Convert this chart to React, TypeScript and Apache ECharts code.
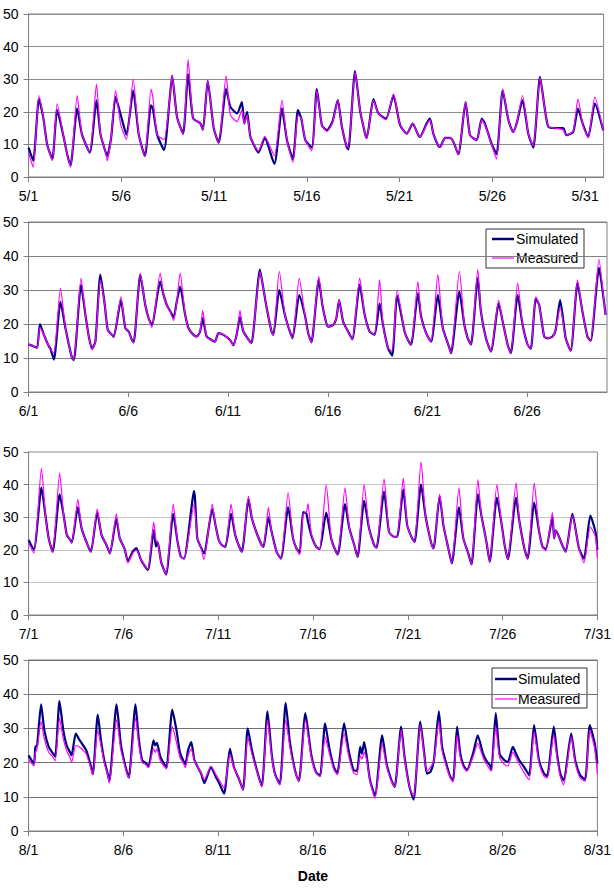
import React, { useEffect, useRef } from "react";
import * as echarts from "echarts";

const FONT = 'Arial, "Liberation Sans", Helvetica, sans-serif';

// ---------- May ----------
const mayTicks = ["5/1", "5/6", "5/11", "5/16", "5/21", "5/26", "5/31"];
const mayT = [0, 0.25, 0.56, 0.8, 1.0, 1.28, 1.54, 1.9, 2.08, 2.26,
  2.62, 2.88, 3.3, 3.66, 3.88, 4.15, 4.24, 4.45, 4.69, 4.97,
  5.28, 5.64, 5.94, 6.27, 6.6, 6.7, 6.93, 7.3, 7.6, 7.74,
  8.0, 8.33, 8.6, 8.87, 9.26, 9.4, 9.66, 9.98, 10.25, 10.65,
  10.88, 11.24, 11.5, 11.63, 11.78, 11.96, 12.3, 12.4, 12.73, 13.25,
  13.66, 13.93, 14.25, 14.52, 14.7, 14.92, 15.27, 15.54, 15.81, 16.08,
  16.38, 16.67, 16.89, 17.15, 17.24, 17.6, 17.87, 18.14, 18.23, 18.59,
  18.86, 19.27, 19.67, 20.03, 20.39, 20.71, 21.01, 21.1, 21.46, 21.64,
  21.82, 22.09, 22.18, 22.45, 22.72, 22.9, 23.17, 23.56, 23.8, 24.16,
  24.43, 24.6, 24.96, 25.23, 25.56, 25.87, 26.13, 26.31, 26.63, 26.94,
  27.21, 27.57, 27.84, 28.02, 28.4, 28.82, 29.0, 29.36, 29.62, 29.9,
  30.17, 30.53, 30.98];
const maySim = [9, 5, 24, 18, 10, 5.5, 20.5, 12, 7, 3.5,
  21, 13, 7.5, 23.5, 13, 7.7, 6.5, 12, 24.5, 19,
  13, 26.5, 13, 6.5, 22, 21, 13, 8.3, 23.5, 31,
  18.5, 13.3, 31.5, 18, 16.4, 14.5, 29.5, 15, 10.5, 27,
  21.5, 19.5, 23, 16.4, 20, 12.3, 8.2, 7.5, 12, 4,
  21, 11.3, 5.5, 20.5, 18, 11.3, 9, 27, 15.9, 14.3,
  16.9, 23.6, 15.4, 9.2, 8.5, 32.5, 20.5, 13.3, 12, 23.9,
  19.5, 17.9, 25, 15.9, 13.3, 16.4, 12.8, 12.3, 16.4, 17.9,
  13.3, 9.5, 9.2, 12, 12, 10.8, 7, 23, 12.8, 11.3,
  17.9, 16.4, 10.2, 7, 26.6, 17.4, 13.8, 16.4, 23.6, 13.3,
  9, 30.7, 20.5, 15.4, 15, 15, 12.8, 13.8, 21, 15.9,
  12.3, 22.5, 14.3];
const mayMeas = [7.5, 3, 25, 18, 10, 5, 22.5, 12, 7, 3,
  25, 13, 7.5, 28.5, 13, 7.7, 5, 12, 26.5, 16,
  11.5, 30, 13, 6.5, 27, 24.5, 13, 11.5, 23.5, 31,
  18.5, 13, 36, 18, 16.4, 14.5, 29.5, 15, 10.5, 31,
  19, 17, 20.5, 16.4, 19, 12.3, 8.5, 8, 12.5, 6.5,
  23.5, 11.3, 4.5, 19, 18, 11.3, 8, 26.5, 15.9, 14,
  16.5, 23.5, 15.4, 9.5, 9, 32, 20.5, 13.3, 12, 23.5,
  19.5, 17.5, 25.5, 15.9, 13.3, 16.5, 12.8, 12.3, 16, 17.5,
  13.3, 9.5, 9.2, 12, 12, 10.8, 7, 23, 12.8, 11.3,
  17.5, 16, 10, 5.5, 27, 17.4, 13.8, 16.4, 25, 13.3,
  9.5, 30.5, 20.5, 15.4, 15, 14.5, 12.8, 14, 24, 15.5,
  12, 24.5, 14.3];

// ---------- June ----------
const junTicks = ["6/1", "6/6", "6/11", "6/16", "6/21", "6/26"];
const junT = [0, 0.27, 0.43, 0.57, 0.77, 1.02, 1.1, 1.27, 1.6, 1.85,
  2.02, 2.18, 2.27, 2.63, 2.85, 3.02, 3.18, 3.35, 3.6, 3.82,
  3.97, 4.18, 4.27, 4.63, 4.85, 5.02, 5.18, 5.27, 5.6, 5.85,
  6.02, 6.18, 6.6, 6.77, 6.93, 7.1, 7.27, 7.43, 7.6, 7.85,
  8.02, 8.27, 8.43, 8.6, 8.73, 8.93, 9.27, 9.35, 9.52, 9.77,
  10.1, 10.27, 10.43, 10.6, 10.77, 11.1, 11.18, 11.6, 11.77, 11.93,
  12.18, 12.27, 12.57, 12.85, 13.02, 13.23, 13.57, 13.85, 14.02, 14.18,
  14.55, 14.73, 14.93, 15.02, 15.27, 15.43, 15.57, 15.77, 16.02, 16.23,
  16.6, 16.85, 17.1, 17.35, 17.6, 17.77, 18.02, 18.23, 18.48, 18.85,
  19.02, 19.18, 19.52, 19.68, 19.93, 20.18, 20.52, 20.77, 21.1, 21.18,
  21.6, 21.85, 22.02, 22.18, 22.52, 22.68, 22.93, 23.18, 23.57, 23.77,
  24.02, 24.18, 24.52, 24.77, 25.02, 25.18, 25.43, 25.6, 25.85, 26.02,
  26.27, 26.43, 26.65, 26.93, 27.18, 27.52, 27.77, 28.02, 28.18, 28.6,
  28.85, 28.93];
const junSim = [14, 13.4, 13, 20, 16.8, 13.4, 12.7, 9.5, 26.5, 18.75,
  13.9, 10, 9.4, 31.5, 22.7, 16.3, 12.7, 14.8, 34.5, 25.6,
  18.3, 16.8, 16.2, 27, 18.75, 17.8, 15.3, 14.6, 34.5, 25.6,
  21.7, 19.7, 32.5, 28.5, 25.6, 23.8, 21.9, 26.6, 31, 22.7,
  18.75, 16.8, 16.3, 17.8, 21.7, 16.3, 15, 14.8, 17.3, 16.8,
  15.3, 13.7, 16.8, 22, 17.8, 14.8, 14.4, 36, 30.5, 25,
  17.8, 16.8, 30, 22.7, 19.2, 15.8, 28.5, 22.7, 17.3, 14.6,
  33, 25.6, 20.2, 19.2, 19.7, 21.7, 27, 20.7, 17.8, 15.5,
  31.5, 22.7, 17.8, 16.8, 26, 19.7, 12.9, 10.7, 28.3, 17.8,
  15.3, 13.9, 29, 22.2, 17.3, 14.8, 28.5, 18.75, 12.9, 11.4,
  29.5, 19.7, 15.8, 13.9, 33.5, 23.6, 15.8, 11.9, 26, 20.7,
  13.9, 11.4, 28.5, 19.7, 13.9, 12.7, 27.5, 25.6, 16.3, 15.8,
  16.3, 18.3, 27, 15.8, 12.1, 32, 23.6, 16.3, 15, 36.5,
  26.5, 22.7];
const junMeas = [14, 13.4, 13, 19, 16.8, 13.4, 12.5, 11.5, 30.5, 18.75,
  13.9, 10, 9.4, 33.5, 22.7, 16.3, 12.5, 14.8, 33, 25.6,
  18.3, 16.8, 16.2, 28, 18.75, 17.8, 15.3, 14.6, 35, 25.6,
  21.7, 19, 35, 28.5, 25.6, 23.8, 21, 26.6, 35, 22.7,
  18.75, 16.8, 16.3, 17.8, 24, 16.3, 15, 14.8, 17.3, 16.8,
  15.3, 13.7, 16.8, 24, 17.8, 14.8, 14.4, 35.5, 30.5, 25,
  17.8, 16.8, 35.5, 22.7, 19.2, 15.8, 33.5, 22.7, 17.3, 14.6,
  34, 25.6, 20.2, 19.2, 19.7, 21.7, 27, 20.7, 17.8, 15.5,
  33.5, 22.7, 17.8, 16.8, 33, 19.7, 12.9, 12, 30, 17.8,
  15.3, 13.9, 32.5, 22.2, 17.3, 14.8, 34.5, 18.75, 12.9, 11.4,
  35.5, 19.7, 15.8, 13.9, 36, 23.6, 15.8, 11.9, 27, 20.7,
  13.9, 11.4, 32, 19.7, 13.9, 12.7, 28, 25.6, 16.3, 15.8,
  16.3, 18.3, 25, 15.8, 12, 33, 23.6, 16.3, 15, 39,
  26.5, 22.7];

// ---------- July ----------
const julTicks = ["7/1", "7/6", "7/11", "7/16", "7/21", "7/26", "7/31"];
const julT = [0, 0.28, 0.68, 0.89, 1.06, 1.27, 1.64, 1.85, 2.02, 2.2,
  2.28, 2.6, 2.8, 3.15, 3.29, 3.62, 3.85, 4.11, 4.29, 4.63,
  4.81, 5.07, 5.24, 5.5, 5.68, 5.94, 6.29, 6.6, 6.72, 6.81,
  6.99, 7.25, 7.63, 7.86, 8.03, 8.2, 8.73, 8.9, 9.08, 9.25,
  9.69, 9.86, 10.03, 10.2, 10.38, 10.68, 10.9, 11.08, 11.25, 11.6,
  11.78, 12.04, 12.3, 12.39, 12.65, 12.82, 13.08, 13.31, 13.69, 13.95,
  14.13, 14.3, 14.48, 14.65, 14.74, 14.91, 15.17, 15.35, 15.7, 15.96,
  16.14, 16.31, 16.69, 16.92, 17.18, 17.35, 17.7, 17.96, 18.23, 18.35,
  18.75, 19.01, 19.27, 19.44, 19.76, 19.97, 20.23, 20.36, 20.7, 20.93,
  21.1, 21.27, 21.36, 21.68, 21.88, 22.14, 22.32, 22.7, 22.93, 23.19,
  23.36, 23.7, 23.88, 24.15, 24.32, 24.7, 24.93, 25.11, 25.28, 25.71,
  25.89, 26.15, 26.32, 26.67, 26.93, 27.11, 27.28, 27.63, 27.72, 27.81,
  28.15, 28.33, 28.68, 29.03, 29.29, 29.63, 29.9, 30.0];
const julSim = [23, 20, 39, 30.6, 23.5, 19.4, 37, 30.6, 24.5, 23,
  22.2, 33, 26.5, 21, 19.4, 31.5, 24.5, 21.4, 18.9, 29.5,
  23.5, 20.2, 16.5, 19.5, 20.5, 16.8, 13.8, 26, 21, 22.4,
  16.3, 12.4, 31, 22.4, 17.9, 17.3, 38, 23.5, 20.9, 18.9,
  32.5, 27.5, 23, 21.4, 20.9, 31, 24.5, 21.4, 19.4, 35.5,
  29.6, 25, 21.4, 20.9, 30, 25.5, 19.4, 17.3, 33, 23.5,
  20.4, 19.1, 31.6, 31.1, 28.5, 24.5, 20.9, 20.2, 31.4, 23.5,
  20.4, 18.6, 34, 26.5, 21.4, 17.8, 35, 26.5, 21.4, 20.6,
  37.8, 25.5, 24, 24, 38.5, 27.5, 23.5, 22.4, 40, 30.6,
  25.5, 21.4, 20.4, 36.5, 27.5, 20.4, 15.8, 33, 23.5, 18.9,
  15.5, 37, 30.6, 22.4, 16.3, 36, 28.6, 21.4, 17.1, 36,
  28.6, 20.4, 17.3, 34.5, 25.5, 20.9, 20.2, 30, 23.5, 26,
  21.4, 19.4, 31, 20.4, 17.3, 30.5, 25.5, 20];
const julMeas = [22, 19, 45, 30.6, 23.5, 19.4, 43.5, 30.6, 24.5, 23,
  22.2, 35.5, 26.5, 21, 19.4, 32.5, 24.5, 21.4, 18.9, 31,
  23.5, 20.2, 16, 19, 20, 16.8, 14, 28.5, 23, 22.4,
  16.3, 12.5, 34, 22.4, 17.9, 17.3, 34, 23.5, 20.9, 17,
  34, 27.5, 23, 21.4, 20.9, 34, 24.5, 21.4, 19.4, 36.5,
  29.6, 25, 21.4, 20.9, 33, 25.5, 19.4, 17.3, 37.5, 23.5,
  20.4, 18.5, 31, 31.5, 34.2, 25, 20.9, 20.2, 40, 23.5,
  20.4, 18.6, 39, 26.5, 21.4, 17.8, 40, 26.5, 21.4, 20.6,
  41.8, 25.5, 24, 24, 42, 27.5, 23.5, 22.4, 47, 30.6,
  25.5, 21.4, 20.4, 37, 27.5, 20.4, 15.8, 39, 23.5, 18.9,
  15.5, 41.5, 30.6, 22.4, 16.3, 40, 28.6, 21.4, 17.1, 40.5,
  28.6, 20.4, 17.3, 40.5, 25.5, 20.9, 19.7, 31.4, 23.5, 26,
  21.4, 19.4, 30.5, 20.4, 16, 27, 24, 17.5];

// ---------- August ----------
const augTicks = ["8/1", "8/6", "8/11", "8/16", "8/21", "8/26", "8/31"];
const augT = [0, 0.28, 0.36, 0.45, 0.66, 0.83, 1.06, 1.23, 1.4, 1.63,
  1.83, 2.01, 2.18, 2.27, 2.49, 2.7, 3.04, 3.3, 3.39, 3.65,
  3.82, 3.99, 4.17, 4.26, 4.64, 4.86, 5.03, 5.21, 5.29, 5.64,
  5.81, 5.99, 6.16, 6.33, 6.59, 6.68, 6.77, 6.95, 7.2, 7.28,
  7.58, 7.8, 7.98, 8.15, 8.27, 8.41, 8.58, 8.75, 9.1, 9.27,
  9.62, 9.88, 10.05, 10.31, 10.62, 10.83, 11.09, 11.31, 11.56, 11.78,
  12.04, 12.3, 12.6, 12.82, 12.99, 13.25, 13.56, 13.77, 13.94, 14.12,
  14.26, 14.6, 14.9, 15.15, 15.37, 15.64, 15.85, 16.1, 16.28, 16.64,
  16.88, 17.14, 17.32, 17.49, 17.58, 17.7, 17.83, 18.01, 18.27, 18.65,
  18.88, 19.14, 19.31, 19.65, 19.83, 20.09, 20.31, 20.66, 20.87, 21.01,
  21.2, 21.38, 21.64, 21.81, 22.08, 22.25, 22.39, 22.6, 22.77, 22.95,
  23.12, 23.46, 23.69, 23.97, 24.15, 24.33, 24.41, 24.64, 24.84, 25.1,
  25.28, 25.54, 25.71, 25.88, 26.14, 26.4, 26.66, 26.92, 27.18, 27.35,
  27.7, 27.87, 28.04, 28.22, 28.62, 28.83, 29.09, 29.35, 29.6, 29.86,
  30.0];
const augSim = [22.1, 19.7, 24.6, 25, 37, 29.5, 24.6, 23.1, 21.7, 38,
  29.5, 25, 23.1, 22.1, 28.5, 26.5, 23.6, 18.7, 16.6, 34,
  26.5, 20.7, 16.8, 14.6, 37, 25.6, 20.7, 16.8, 15.6, 37,
  27, 20.7, 20, 18.9, 26.5, 25, 25.8, 21.7, 19.2, 18.7,
  35.5, 29.5, 23.1, 20.7, 19.5, 23.6, 26, 20.7, 16.8, 14,
  18.7, 15.8, 14, 10.9, 24, 18.7, 15.3, 12.1, 30, 23.6,
  17.8, 13.1, 35, 22.6, 16.8, 13.7, 37.5, 26.5, 20.7, 16.3,
  14.6, 34.5, 22.6, 17.3, 16.1, 31.5, 24.6, 18.7, 16.8, 31.5,
  23.6, 17.8, 17.6, 24.6, 22.6, 26, 22, 14.8, 10.4, 28,
  19.7, 14.8, 12.9, 30.5, 21.7, 12.9, 9.2, 32, 22.6, 16.8,
  17.3, 20.7, 35, 24.6, 18.7, 15.8, 14.8, 30.5, 22.6, 19,
  17.8, 23, 28, 22.6, 20.5, 19.2, 17.8, 34.5, 22.6, 20.7,
  20.2, 24.6, 22.6, 20.7, 18.7, 16.3, 31, 20.7, 16.8, 16,
  30.5, 22.6, 16.8, 14.8, 28.5, 20.7, 16.3, 15, 31, 25.6,
  19.7];
const augMeas = [21, 19, 23, 24, 32, 27, 23, 22, 20.5, 33,
  27, 23.5, 21.5, 20, 25, 24.5, 22.5, 18, 16.5, 29.5,
  25, 20, 16.5, 14, 32.5, 24, 20, 16.5, 15.5, 33,
  25.5, 20, 19.5, 18.5, 24, 23, 24, 20.5, 18.5, 18.2,
  30.5, 26, 21.5, 20, 18.5, 22, 24, 20.5, 17, 15,
  19, 16.5, 15, 12.5, 22.5, 18.5, 15.5, 12, 27.5, 22.5,
  17.5, 13, 32.5, 22, 16.5, 13.5, 32.5, 25, 20, 16.3,
  14.5, 32.5, 22, 17, 16, 27.5, 23, 18, 16.5, 28.5,
  22, 17, 16.5, 22, 21, 23, 21, 14.5, 9.5, 25.5,
  19, 14.5, 12.9, 29.5, 21, 13, 10, 31, 22, 17.5,
  18.7, 20.5, 32, 23.5, 18, 15.5, 14.3, 28, 21.5, 18.5,
  17.5, 22, 25.6, 21.5, 19.5, 18, 17.5, 30.5, 21.5, 19.5,
  19, 23, 21.5, 19.5, 17, 15, 29, 20, 16, 15.5,
  28, 21.5, 16, 13.5, 27.5, 20, 15.5, 14.5, 29.5, 24,
  16.5];

const panels = [
  { t: mayT, sim: maySim, meas: mayMeas, ticks: mayTicks, days: 31, left: 28, top: 14, width: 575.6, height: 163, split: "#8c8c8c" },
  { t: junT, sim: junSim, meas: junMeas, ticks: junTicks, days: 29, left: 28, top: 222, width: 579, height: 170, split: "#808080" },
  { t: julT, sim: julSim, meas: julMeas, ticks: julTicks, days: 30, left: 28, top: 452, width: 574, height: 163, split: "#c4c4c4" },
  { t: augT, sim: augSim, meas: augMeas, ticks: augTicks, days: 30, left: 28, top: 660, width: 578, height: 171, split: "#707070" },
];

function legendGroup(bx: number, by: number, bw: number, bh: number, lx1: number, lx2: number, tx: number, y1: number, y2: number) {
  return {
    type: "group",
    z: 100,
    children: [
      { type: "rect", shape: { x: bx, y: by, width: bw, height: bh }, style: { fill: "#ffffff", stroke: "#333333", lineWidth: 1 } },
      { type: "line", shape: { x1: lx1, y1: y1, x2: lx2, y2: y1 }, style: { stroke: "#000080", lineWidth: 2.5 } },
      { type: "text", x: tx, y: y1, style: { text: "Simulated", fontSize: 14, fontFamily: FONT, fill: "#000", align: "left", verticalAlign: "middle" } },
      { type: "line", shape: { x1: lx1, y1: y2, x2: lx2, y2: y2 }, style: { stroke: "#ff00ff", lineWidth: 1.2 } },
      { type: "text", x: tx, y: y2, style: { text: "Measured", fontSize: 14, fontFamily: FONT, fill: "#000", align: "left", verticalAlign: "middle" } },
    ],
  };
}

function buildOption() {
  const grid: any[] = [];
  const xAxis: any[] = [];
  const yAxis: any[] = [];
  const series: any[] = [];
  panels.forEach((p, i) => {
    grid.push({ left: p.left, top: p.top, width: p.width, height: p.height, show: true, borderColor: "#808080", borderWidth: 1, containLabel: false });
    const tickVals = p.ticks.map((_, k) => k * 5);
    const x: any = {
      type: "value",
      gridIndex: i,
      min: 0,
      max: p.days,
      interval: 5,
      axisLine: { show: true, lineStyle: { color: "#808080", width: 1 } },
      axisTick: { show: true, length: 5, customValues: tickVals, lineStyle: { color: "#808080" } },
      splitLine: { show: false },
      axisLabel: {
        customValues: tickVals,
        formatter: (v: number) => (Math.abs(v % 5) < 1e-6 ? p.ticks[Math.round(v / 5)] ?? "" : ""),
        fontSize: 14,
        color: "#000",
        fontFamily: FONT,
        margin: 12,
        hideOverlap: false,
      },
    };
    if (i === 3) {
      x.name = "Date";
      x.nameLocation = "middle";
      x.nameGap = 38;
      x.nameTextStyle = { fontWeight: "bold", fontSize: 14, color: "#000", fontFamily: FONT };
    }
    xAxis.push(x);
    yAxis.push({
      type: "value",
      gridIndex: i,
      min: 0,
      max: 50,
      interval: 10,
      axisLine: { show: true, lineStyle: { color: "#808080", width: 1 } },
      axisTick: { show: true, length: 5, lineStyle: { color: "#808080" } },
      splitLine: { show: true, lineStyle: { color: p.split, width: 1 } },
      axisLabel: { fontSize: 14, color: "#000", fontFamily: FONT, margin: 10 },
    });
    series.push({
      name: "Simulated",
      type: "line",
      xAxisIndex: i,
      yAxisIndex: i,
      data: p.t.map((t, k) => [t, p.sim[k]]),
      showSymbol: false,
      symbol: "none",
      smooth: 0.2,
      lineStyle: { color: "#000080", width: 2.2 },
      itemStyle: { color: "#000080" },
      z: 2,
    });
    series.push({
      name: "Measured",
      type: "line",
      xAxisIndex: i,
      yAxisIndex: i,
      data: p.t.map((t, k) => [t, p.meas[k]]),
      showSymbol: false,
      symbol: "none",
      smooth: 0.2,
      lineStyle: { color: "#ff00ff", width: 1.2 },
      itemStyle: { color: "#ff00ff" },
      z: 3,
    });
  });
  return {
    animation: false,
    backgroundColor: "#ffffff",
    textStyle: { fontFamily: FONT },
    grid,
    xAxis,
    yAxis,
    series,
    graphic: [
      legendGroup(486, 229, 98, 39, 492, 514, 516, 239, 258),
      legendGroup(492, 668, 95, 40, 495, 517, 518, 679, 699),
    ],
  };
}

export default function App() {
  const ref = useRef<HTMLDivElement>(null);
  useEffect(() => {
    if (!ref.current) return;
    const chart = echarts.init(ref.current, null, { renderer: "svg" });
    chart.setOption(buildOption() as any);
    return () => chart.dispose();
  }, []);
  return (
    <div
      ref={ref}
      style={{ position: "absolute", left: 0, top: 0, width: 614, height: 890, background: "#fff" }}
    />
  );
}
